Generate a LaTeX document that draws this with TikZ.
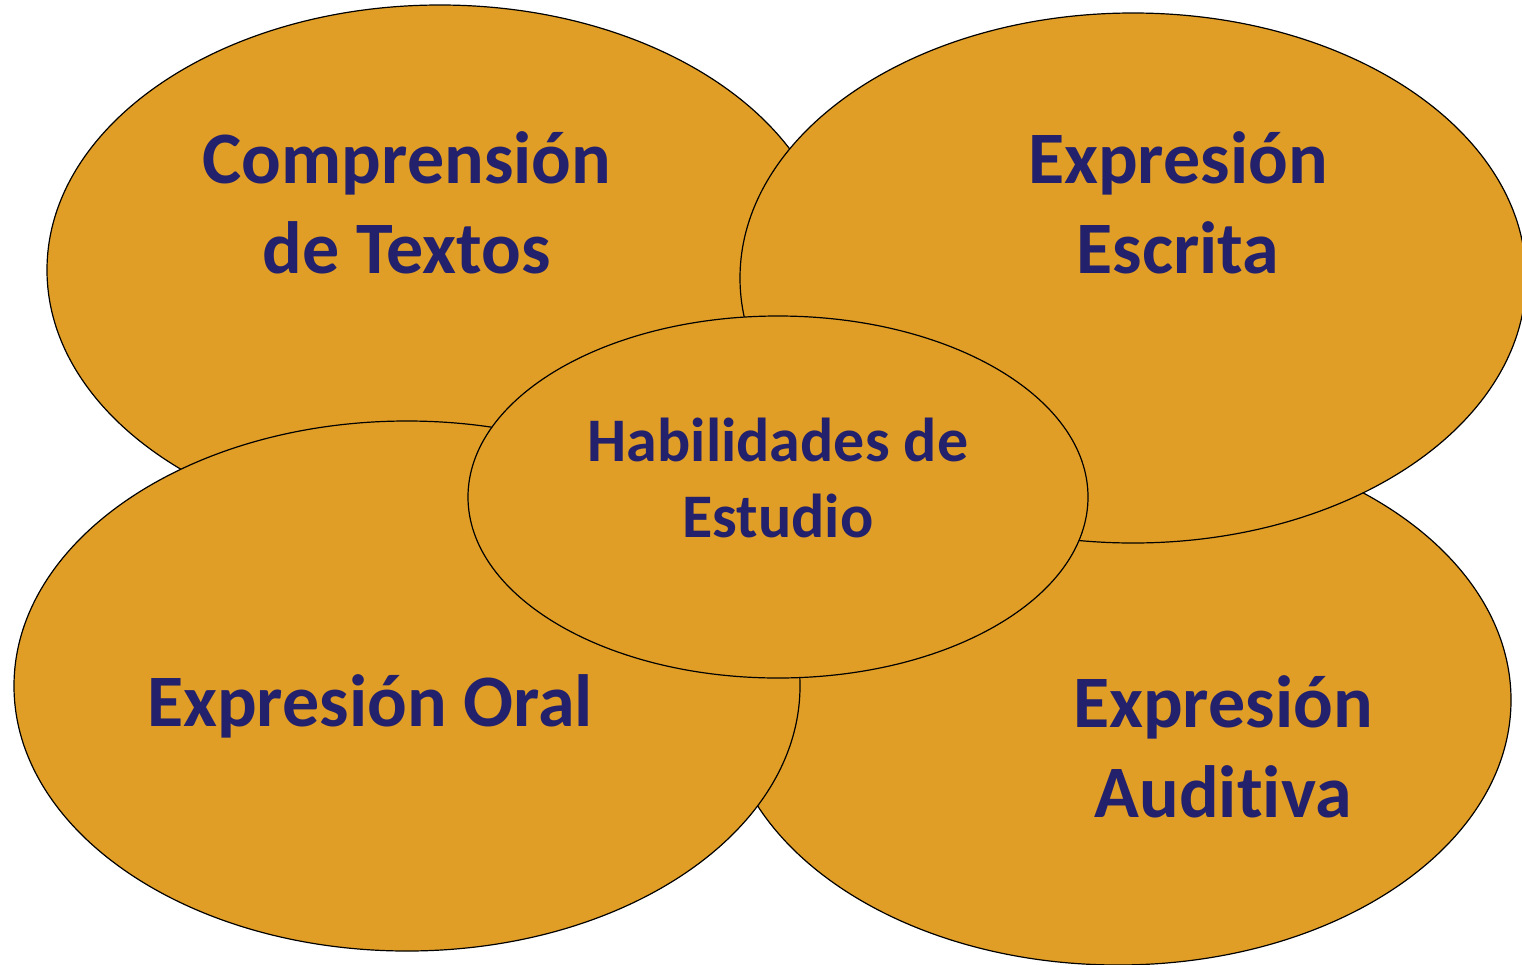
\documentclass[tikz,border=0pt]{standalone}
\usepackage{fontspec}
\setmainfont{Carlito}[Ligatures=NoCommon]
\usepackage{tikz}
\usetikzlibrary{shapes.geometric}
\definecolor{habfill}{HTML}{E19E26}
\definecolor{habtext}{HTML}{23216B}
\tikzset{
	area/.style={ellipse, draw=black, line width=1.2pt, fill=habfill, inner sep=0pt,
		minimum width=786pt, minimum height=530pt},
	biglabel/.style={anchor=base, align=center, text=habtext, inner sep=0pt,
		font=\fontsize{74pt}{90pt}\selectfont\bfseries},
	midlabel/.style={anchor=base, align=center, text=habtext, inner sep=0pt,
		font=\fontsize{62pt}{76pt}\selectfont\bfseries},
}

\begin{document}
\begin{tikzpicture}[x=1pt,y=-1pt]
	\useasboundingbox (0,0) rectangle (1522,964);
	% the four areas, back to front
	\node[area] (comp) at (440,270) {};
	\node[area] (audi) at (1118,700) {};
	\node[area] (escr) at (1133,278) {};
	\node[area] (oral) at (407,686) {};
	\node[area, minimum width=620pt, minimum height=362pt] (habil) at (778,497) {};
	% labels (base = last line)
	\node[biglabel] (tcomp) at (407,273) {Comprensión\\de Textos};
	\node[biglabel] (tescr) at (1178,273) {Expresión\\Escrita};
	\node[biglabel] (toral) at (370,726) {Expresión Oral};
	\node[biglabel] (taudi) at (1223,817) {Expresión\\Auditiva};
	\node[midlabel] (thabil) at (778,537) {Habilidades de\\Estudio};
\end{tikzpicture}
\end{document}
